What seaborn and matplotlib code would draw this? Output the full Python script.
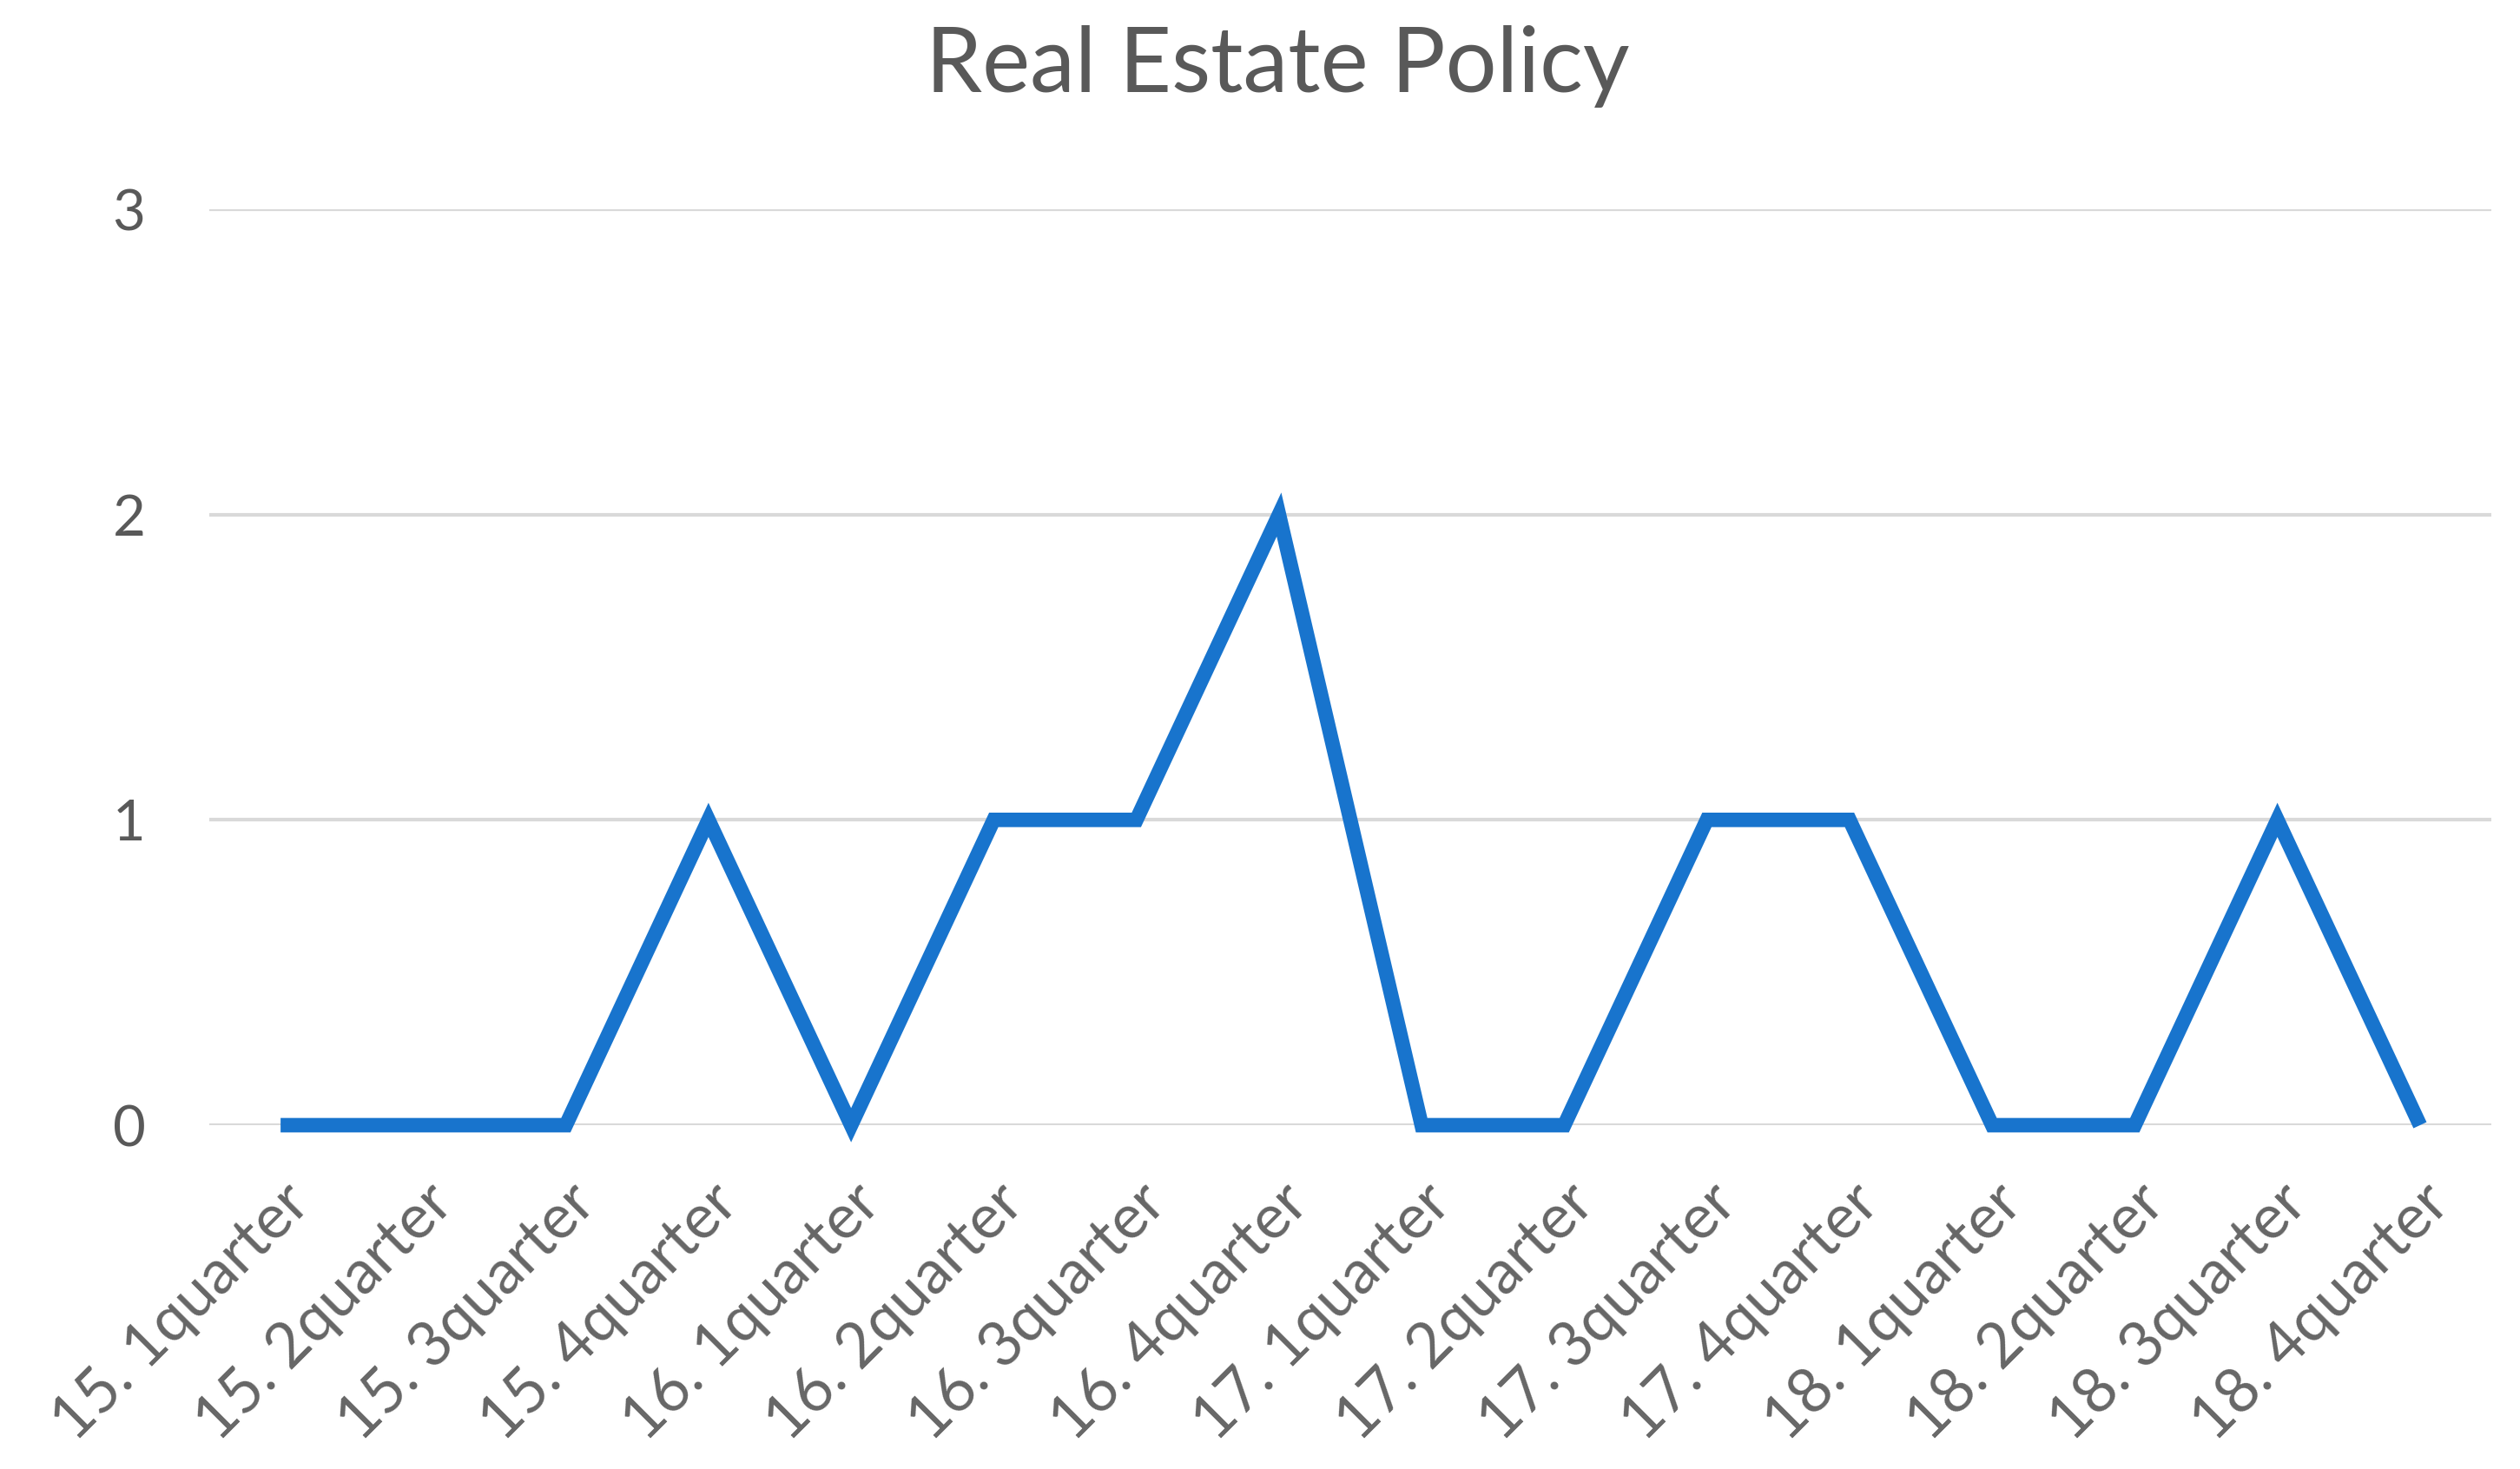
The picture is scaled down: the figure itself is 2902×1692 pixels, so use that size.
import matplotlib
matplotlib.use("Agg")
import matplotlib.pyplot as plt
import seaborn as sns
import pandas as pd

# data
quarters = ["15. 1quarter", "15. 2quarter", "15. 3quarter", "15. 4quarter",
            "16. 1quarter", "16. 2quarter", "16. 3quarter", "16. 4quarter",
            "17. 1quarter", "17. 2quarter", "17. 3quarter", "17. 4quarter",
            "18. 1quarter", "18. 2quarter", "18. 3quarter", "18. 4quarter"]
policy_count = [0, 0, 0, 1, 0, 1, 1, 2, 0, 0, 1, 1, 0, 0, 1, 0]
y_ticks = [0, 1, 2, 3]

df = pd.DataFrame({"quarter": quarters, "count": policy_count})

sns.set_style("white")
plt.rcParams["font.family"] = ["Lato", "DejaVu Sans"]

W, H = 2902, 1692
fig = plt.figure(figsize=(W / 100, H / 100), dpi=100)
ax = fig.add_axes([241 / W, 1 - 1296 / H, (2869 - 241) / W, (1296 - 241) / H])

sns.lineplot(data=df, x="quarter", y="count", ax=ax, color="#1874CD",
             linewidth=12, sort=False)
for ln in ax.lines:
    ln.set_solid_joinstyle("miter")
    ln.set_solid_capstyle("butt")
    ln.set_clip_on(False)

ax.set_xlim(-0.5, len(quarters) - 0.5)
ax.set_ylim(0, 3)
ax.set_yticks(y_ticks)
ax.yaxis.grid(True, color="#D9D9D9", linewidth=3)
ax.set_axisbelow(True)
for s in ax.spines.values():
    s.set_visible(False)

ax.tick_params(axis="y", length=0, pad=53, labelsize=47, labelcolor="#595959")
ax.tick_params(axis="x", length=0, pad=40, labelsize=51, labelcolor="#666666")
plt.setp(ax.get_xticklabels(), rotation=45, ha="right", rotation_mode="anchor")
ax.set_xlabel("")
ax.set_ylabel("")

fig.text(0.507, 1 - 76 / H, "Real Estate Policy", ha="center", va="center",
         fontsize=75, color="#595959")

fig.savefig("out.png", dpi=100, facecolor="white")
